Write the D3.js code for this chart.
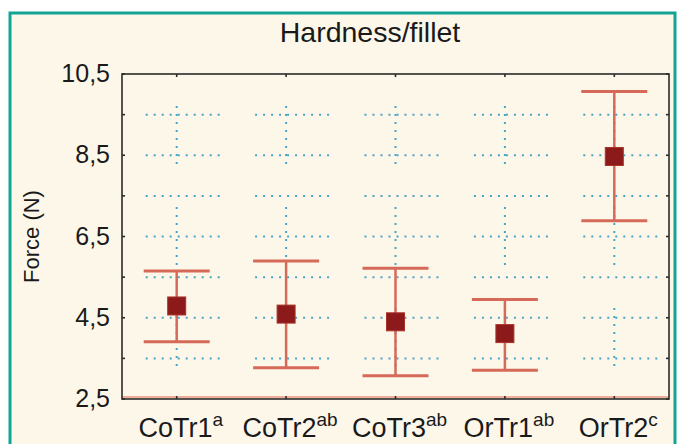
<!DOCTYPE html>
<html>
<head>
<meta charset="utf-8">
<script src="https://cdn.jsdelivr.net/npm/d3@7"></script>
<style>
  html, body { margin: 0; padding: 0; background: #ffffff; }
  svg { display: block; }
  text { font-family: "Liberation Sans", Arial, sans-serif; fill: #1a1a1a; }
</style>
</head>
<body>
<svg id="chart" width="684" height="444"></svg>
<script>
// Hardness of fillets per treatment: mean with upper/lower interval
const categories = ["CoTr1", "CoTr2", "CoTr3", "OrTr1", "OrTr2"];
const groupLetters = ["a", "ab", "ab", "ab", "c"];
const means = [4.79, 4.59, 4.40, 4.11, 8.47];
const upperValues = [5.65, 5.90, 5.72, 4.95, 10.07];
const lowerValues = [3.91, 3.27, 3.07, 3.21, 6.89];
const yTickValues = [2.5, 4.5, 6.5, 8.5, 10.5];
const gridValues = [3.5, 4.5, 5.5, 6.5, 7.5, 8.5, 9.5];

const svg = d3.select("#chart");

// outer panel
svg.append("rect")
  .attr("x", 10).attr("y", 13)
  .attr("width", 665).attr("height", 445)
  .attr("fill", "#fdf7ea")
  .attr("stroke", "#13a593")
  .attr("stroke-width", 3);

const plot = { left: 122, right: 669, top: 74, bottom: 399 };

const x = d3.scaleBand().domain(categories).range([plot.left, plot.right]);
const y = d3.scaleLinear().domain([2.5, 10.5]).range([plot.bottom, plot.top]);
const cx = c => x(c) + x.bandwidth() / 2;

// dotted grid: short horizontal runs around each category
const grid = svg.append("g");
categories.forEach(c => {
  gridValues.forEach(v => {
    grid.append("line")
      .attr("x1", cx(c) - 31).attr("x2", Math.min(cx(c) + 45, plot.right - 1))
      .attr("y1", y(v)).attr("y2", y(v))
      .attr("stroke", "#4aa3c8")
      .attr("stroke-width", 2)
      .attr("stroke-dasharray", "2 6");
  });
  // vertical dotted run through each category
  const dots = d3.range(7).map(() => "2 6").join(" ") + " 2 43";
  grid.append("line")
    .attr("x1", cx(c)).attr("x2", cx(c))
    .attr("y1", plot.top + 32).attr("y2", plot.bottom)
    .attr("stroke", "#4aa3c8")
    .attr("stroke-width", 2)
    .attr("stroke-dasharray", dots);
});

// plot frame
svg.append("line")
  .attr("x1", plot.left).attr("x2", plot.right)
  .attr("y1", plot.bottom - 2).attr("y2", plot.bottom - 2)
  .attr("stroke", "#e8967e").attr("stroke-width", 1.5);
svg.append("rect")
  .attr("x", plot.left).attr("y", plot.top)
  .attr("width", plot.right - plot.left).attr("height", plot.bottom - plot.top)
  .attr("fill", "none")
  .attr("stroke", "#2b2b2b")
  .attr("stroke-width", 1.6);

// small tick marks on the frame
const ticks = svg.append("g").attr("stroke", "#2b2b2b").attr("stroke-width", 1.6);
d3.range(2.5, 10.51, 1).forEach(v => {
  ticks.append("line").attr("x1", plot.left).attr("x2", plot.left + 3).attr("y1", y(v)).attr("y2", y(v));
  ticks.append("line").attr("x1", plot.right - 3).attr("x2", plot.right).attr("y1", y(v)).attr("y2", y(v));
});
categories.forEach(c => {
  ticks.append("line").attr("x1", cx(c)).attr("x2", cx(c)).attr("y1", plot.top).attr("y2", plot.top + 3);
  ticks.append("line").attr("x1", cx(c)).attr("x2", cx(c)).attr("y1", plot.bottom - 3).attr("y2", plot.bottom);
});

// y axis labels
const fmt = v => d3.format(".1f")(v).replace(".", ",");
const yAxis = d3.axisLeft(y).tickValues(yTickValues).tickFormat(fmt).tickSize(0).tickPadding(12);
const yAxisG = svg.append("g").attr("transform", `translate(${plot.left},0)`).call(yAxis);
yAxisG.select(".domain").remove();
yAxisG.selectAll("text")
  .attr("font-size", 25)
  .attr("font-family", "Liberation Sans, Arial, sans-serif")
  .attr("fill", "#1a1a1a")
  .attr("dy", "0.30em");

// x axis labels with superscript group letters
categories.forEach((c, i) => {
  const t = svg.append("text")
    .attr("x", cx(c) + 4)
    .attr("y", 437)
    .attr("text-anchor", "middle")
    .attr("font-size", 27);
  t.append("tspan").text(c);
  t.append("tspan")
    .attr("font-size", 19)
    .attr("dy", -11)
    .text(groupLetters[i]);
});

// titles
svg.append("text")
  .attr("x", 370).attr("y", 42)
  .attr("text-anchor", "middle")
  .attr("font-size", 28.5)
  .text("Hardness/fillet");

svg.append("text")
  .attr("transform", `translate(39,${(plot.top + plot.bottom) / 2}) rotate(-90)`)
  .attr("text-anchor", "middle")
  .attr("font-size", 22)
  .text("Force (N)");

// error bars
const barColor = "#d66a58";
const bars = svg.append("g");
categories.forEach((c, i) => {
  const g = bars.append("g");
  g.append("line")
    .attr("x1", cx(c)).attr("x2", cx(c))
    .attr("y1", y(upperValues[i])).attr("y2", y(lowerValues[i]))
    .attr("stroke", barColor).attr("stroke-width", 2.5);
  [upperValues[i], lowerValues[i]].forEach(v => {
    g.append("line")
      .attr("x1", cx(c) - 33).attr("x2", cx(c) + 33)
      .attr("y1", y(v)).attr("y2", y(v))
      .attr("stroke", barColor).attr("stroke-width", 3);
  });
  g.append("rect")
    .attr("x", cx(c) - 9).attr("y", y(means[i]) - 9)
    .attr("width", 18).attr("height", 18)
    .attr("fill", "#8c1a1a")
    .attr("stroke", "#a8322a")
    .attr("stroke-width", 1);
});
</script>
</body>
</html>
